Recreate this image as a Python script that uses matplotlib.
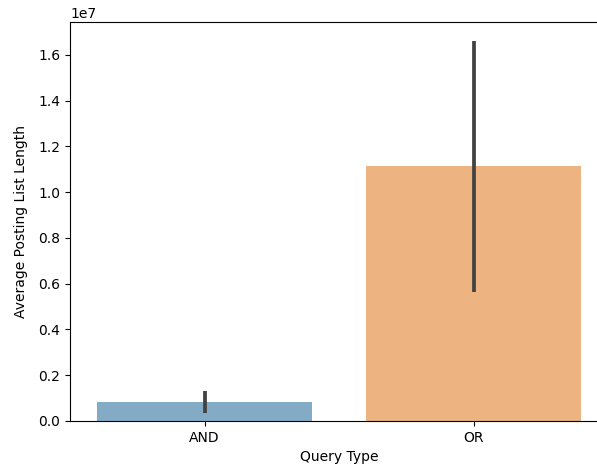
import matplotlib
matplotlib.use("Agg")
import matplotlib.pyplot as plt
import numpy as np

# query type vs mean posting list length, with 95% CI bounds
query_types = ["AND", "OR"]
mean_length = [0.084e7, 1.116e7]
ci_low = [0.036e7, 0.565e7]
ci_high = [0.132e7, 1.66e7]
bar_colors = ["#3274a1", "#e1812c"]

fig = plt.figure(figsize=(5.97, 4.72), dpi=100)
ax = fig.add_axes([70 / 597, 51 / 472, 538 / 597, 399 / 472])

x = np.arange(len(query_types))
ax.bar(x, mean_length, width=0.8, color=bar_colors, alpha=0.6)
for xi, lo, hi in zip(x, ci_low, ci_high):
    ax.plot([xi, xi], [lo, hi], color="#424242", lw=2.7, solid_capstyle="butt")

ax.set_xticks(x)
ax.set_xticklabels(query_types)
ax.set_xlim(-0.5, 1.5)
ax.set_ylim(0, 1.743e7)
ax.set_xlabel("Query Type")
ax.set_ylabel("Average Posting List Length", labelpad=7)

fig.savefig("out.png", dpi=100)
